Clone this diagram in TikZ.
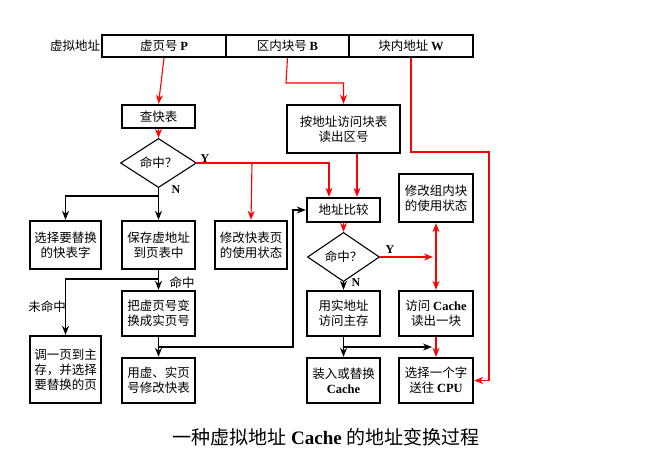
\documentclass[tikz,border=0pt]{standalone}
\usepackage{fontspec}
\setmainfont{Liberation Serif}
\newfontfamily\cjk{Noto Sans CJK SC}
\newfontfamily\lat{Liberation Serif}
\newcommand\bl[1]{{\lat\bfseries #1}}
\usetikzlibrary{shapes.geometric,arrows.meta}
\begin{document}
\begin{tikzpicture}[x=1pt,y=-1pt,
  every node/.style={font=\cjk\fontsize{12.5}{15}\selectfont},
  box/.style={draw,line width=2.4pt,inner sep=0,align=center,minimum width=73,minimum height=45},
  cell/.style={draw,line width=2.2pt,inner sep=0,minimum height=22},
  dia/.style={draw,line width=1.1pt,diamond,inner sep=0,minimum width=76,minimum height=38},
  ra/.style={red,line width=1.1pt,-{Stealth[length=9pt,width=7pt]}},
  ba/.style={black,line width=1.1pt,-{Stealth[length=9pt,width=7pt]}},
  lab/.style={font=\lat\bfseries\fontsize{12}{14}\selectfont}]
\useasboundingbox (0,0) rectangle (652,463);
% top bar
\node[cell,minimum width=124] (P) at (164,46) {虚页号 \bl{P}};
\node[cell,minimum width=123] (B) at (287.5,46) {区内块号 \bl{B}};
\node[cell,minimum width=124] (W) at (411,46) {块内地址 \bl{W}};
\node (va) at (75,46) {虚拟地址};
% boxes
\node[box,minimum height=23] (cha) at (158.5,116.5) {查快表};
\node[box,minimum width=113,minimum height=48] (an) at (343.5,129) {按地址访问块表\\读出区号};
\node[box,minimum height=24] (cmp) at (343.5,210) {地址比较};
\node[box,minimum width=74,minimum height=48] (xg) at (436,198) {修改组内块\\的使用状态};
\node[box,minimum width=71,minimum height=48] (xz) at (65.5,245) {选择要替换\\的快表字};
\node[box,minimum height=48] (bc) at (158.5,245) {保存虚地址\\到页表中};
\node[box,minimum width=72,minimum height=48] (xk) at (251,245) {修改快表页\\的使用状态};
\node[box] (bx) at (158.5,313.5) {把虚页号变\\换成实页号};
\node[box,minimum width=71,minimum height=67] (dy) at (65.5,369.5) {调一页到主\\存，并选择\\要替换的页};
\node[box] (yx) at (158.5,380.5) {用虚、实页\\号修改快表};
\node[box] (ys) at (343.5,313.5) {用实地址\\访问主存};
\node[box,minimum width=74] (fc) at (436,313.5) {访问 \bl{Cache}\\读出一块};
\node[box] (zr) at (343.5,380.5) {装入或替换\\\bl{Cache}};
\node[box,minimum width=74] (sel) at (436,380.5) {选择一个字\\送往 \bl{CPU}};
\node[dia] (d1) at (158.5,163) {命中？};
\node[dia,minimum width=72,minimum height=30] (d2) at (343.5,257) {命中？};
% labels
\node[lab] (y1) at (205,159) {Y};
\node[lab] (n1) at (176,190) {N};
\node[lab] (y2) at (390,250) {Y};
\node[lab] (n2) at (356,283) {N};
\node (mz) at (182,283) {命中};
\node (wmz) at (47,307) {未命中};
\node[font=\cjk\fontsize{19}{22}\selectfont] (cap) at (326,437) {一种虚拟地址 {\lat\bfseries Cache} 的地址变换过程};
% coordinates
\coordinate (r1) at (252,163);
\coordinate (wr) at (489,152);
\coordinate (j1) at (158.5,196);
\coordinate (j2) at (158.5,279);
\coordinate (j3) at (158.5,347);
\coordinate (k3) at (293,347);
\coordinate (j4) at (436,257);
\coordinate (j5) at (343.5,347);
\coordinate (k5) at (432,347);
\coordinate (bb) at (286,83);
% red connectors
\draw[ra] (P.south) -- (cha.north);
\draw[ra] (cha.south) -- (d1.north);
\draw[ra] (d1.east) -| ([xshift=-14.5]cmp.north);
\draw[ra] (r1) -- (xk.north);
\draw[ra] (B.south) -- (bb) -| (an.north);
\draw[ra] ([xshift=13.5]an.south) -- ([xshift=13.5]cmp.north);
\draw[ra] (W.south) |- (wr) |- (sel.east);
\draw[ra] (cmp.south) -- (d2.north);
\draw[ra] (d2.east) -- ([xshift=-3]j4);
\draw[red,line width=1.1pt,{Stealth[length=9pt,width=7pt]}-{Stealth[length=9pt,width=7pt]}] (xg.south) -- (fc.north);
\draw[ra] (fc.south) -- (sel.north);
% black connectors
\draw[ba] (d1.south) -- (bc.north);
\draw[ba] (j1) -| (xz.north);
\draw[ba] (bc.south) -- (bx.north);
\draw[ba] (j2) -| (dy.north);
\draw[ba] (bx.south) -- (yx.north);
\draw[ba] (j3) -- (k3) |- (cmp.west);
\draw[ba] (d2.south) -- (ys.north);
\draw[ba] (ys.south) -- (zr.north);
\draw[ba] (j5) -- (k5);
\end{tikzpicture}
\end{document}
